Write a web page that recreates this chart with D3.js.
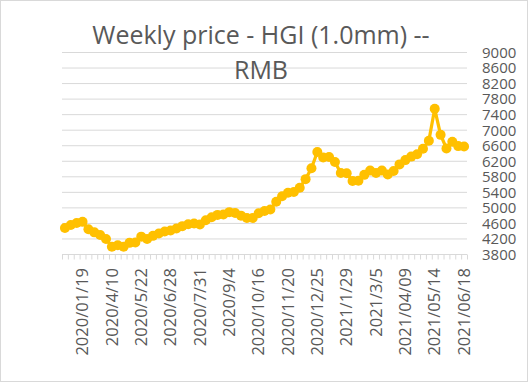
<!DOCTYPE html>
<html>
<head>
<meta charset="utf-8">
<script src="https://cdn.jsdelivr.net/npm/d3@7"></script>
<style>
  body { margin: 0; background: #fff; }
  text { font-family: "Open Sans", sans-serif; fill: #595959; }
</style>
</head>
<body>
<script>
// weekly price, one value per week (RMB)
var prices = [
    4480, 4560, 4610, 4640, 4450, 4370, 4300, 4200, 4000, 4040,
    4000, 4100, 4110, 4260, 4200, 4280, 4340, 4390, 4420, 4470,
    4530, 4580, 4600, 4570, 4680, 4760, 4820, 4830, 4890, 4870,
    4800, 4740, 4740, 4860, 4920, 4960, 5160, 5300, 5390, 5410,
    5520, 5740, 6020, 6440, 6300, 6310, 6180, 5900, 5890, 5690,
    5700, 5850, 5960, 5900, 5960, 5860, 5950, 6120, 6230, 6320,
    6380, 6520, 6730, 7550, 6880, 6530, 6700, 6590, 6580
];

// labels shown on the axis, every 5th week counted back from the last one
var dateLabels = [
    "2020/01/19", "2020/4/10", "2020/5/22", "2020/6/28", "2020/7/31",
    "2020/9/4", "2020/10/16", "2020/11/20", "2020/12/25", "2021/1/29",
    "2021/3/5", "2021/04/09", "2021/05/14", "2021/06/18"
];
var labelStep = 5;

var yTicks = d3.range(3800, 9001, 400);

var width = 528,
    height = 382,
    plot = { left: 62, right: 467, top: 52.5, bottom: 254.5 };

var svg = d3.select("body").append("svg")
    .attr("width", width)
    .attr("height", height);

// chart border
svg.append("rect")
    .attr("x", 0.5).attr("y", 0.5)
    .attr("width", width - 1).attr("height", height - 1)
    .attr("fill", "#fff")
    .attr("stroke", "#d9d9d9");

var weeks = d3.range(prices.length);
var labelIdx = dateLabels.map(function (d, i) {
    return prices.length - 1 - (dateLabels.length - 1 - i) * labelStep;
});

var x = d3.scaleBand().domain(weeks).range([plot.left, plot.right]);
var xEdge = d3.scaleLinear().domain([0, prices.length]).range([plot.left, plot.right]);
var y = d3.scaleLinear().domain([3800, 9000]).range([plot.bottom, plot.top]);

// gridlines
svg.append("g")
    .selectAll("line")
    .data(yTicks.slice(1))
    .enter()
    .append("line")
    .attr("x1", plot.left).attr("x2", plot.right)
    .attr("y1", function (d) { return y(d); })
    .attr("y2", function (d) { return y(d); })
    .attr("stroke", "#d9d9d9")
    .attr("stroke-width", 1);

// value axis on the right
var yAxis = svg.append("g")
    .attr("transform", "translate(" + plot.right + ",0)")
    .call(d3.axisRight(y).tickValues(yTicks).tickSize(0).tickPadding(15)
        .tickFormat(d3.format("d")));
yAxis.select(".domain").remove();
yAxis.selectAll("text")
    .style("font-size", "15px")
    .style("font-family", "'Open Sans', sans-serif")
    .attr("fill", "#595959");

// category axis: line and tick marks between weeks
var xTicks = svg.append("g")
    .attr("transform", "translate(0," + plot.bottom + ")")
    .call(d3.axisBottom(xEdge).tickValues(d3.range(prices.length + 1))
        .tickSize(5).tickFormat(""));
xTicks.select(".domain").attr("stroke", "#d9d9d9").attr("d", "M" + plot.left + ",0H" + plot.right);
xTicks.selectAll(".tick line").attr("stroke", "#d9d9d9");

// date labels, rotated
var xLabels = svg.append("g")
    .attr("transform", "translate(0," + plot.bottom + ")")
    .call(d3.axisBottom(x).tickValues(labelIdx).tickSize(0)
        .tickFormat(function (d) { return dateLabels[labelIdx.indexOf(d)]; }));
xLabels.select(".domain").remove();
xLabels.selectAll("text")
    .attr("y", 0)
    .attr("x", 0)
    .attr("dy", "0.35em")
    .attr("transform", "translate(0,13.5) rotate(-90)")
    .style("text-anchor", "end")
    .style("font-size", "16.5px")
    .style("font-family", "'Open Sans', sans-serif")
    .attr("fill", "#595959");

// price line + markers
var cx = function (d, i) { return x(i) + x.bandwidth() / 2; };
var line = d3.line()
    .x(cx)
    .y(function (d) { return y(d); });

svg.append("path")
    .datum(prices)
    .attr("d", line)
    .attr("fill", "none")
    .attr("stroke", "#ffc000")
    .attr("stroke-width", 3.25)
    .attr("stroke-linejoin", "round");

svg.append("g")
    .selectAll("circle")
    .data(prices)
    .enter()
    .append("circle")
    .attr("cx", cx)
    .attr("cy", function (d) { return y(d); })
    .attr("r", 5)
    .attr("fill", "#ffc000");

// title
var title = svg.append("text")
    .attr("x", 261)
    .attr("text-anchor", "middle")
    .style("font-size", "25px");
title.append("tspan").attr("x", 261).attr("y", 44).text("Weekly price - HGI (1.0mm) --");
title.append("tspan").attr("x", 261).attr("y", 79).text("RMB");
</script>
</body>
</html>
